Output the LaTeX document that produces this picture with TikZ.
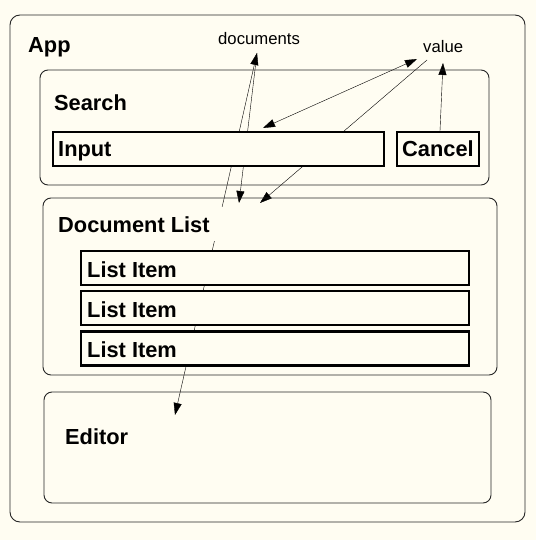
\documentclass[tikz,border=0pt]{standalone}
\usepackage{fontspec}
\setmainfont{Liberation Sans}
\usetikzlibrary{arrows.meta,backgrounds}
\definecolor{paper}{RGB}{255,253,242}

\begin{document}
\begin{tikzpicture}[x=1pt,y=-1pt,
    >={Triangle[length=12pt,width=8pt]},
    panel/.style={draw=black!85,line width=0.9pt,rounded corners=10pt,inner sep=0pt},
    widget/.style={draw=black,line width=2.2pt,fill=paper,inner sep=0pt},
    title/.style={font=\fontsize{21.8}{24}\selectfont\bfseries,anchor=base west,inner sep=0pt,fill=paper},
    prop/.style={font=\fontsize{16.7}{19}\selectfont,anchor=base west,inner sep=0pt},
    ]
  \useasboundingbox (0,0) rectangle (536,540);
  % containers
  \node[panel,minimum width=515pt,minimum height=507pt] (app) at (267.5,268.5) {};
  \node[panel,rounded corners=8pt,minimum width=449pt,minimum height=115pt] (search) at (264.5,127.5) {};
  \node[panel,rounded corners=8pt,minimum width=454pt,minimum height=177pt] (doclist) at (270,286.5) {};
  \node[panel,rounded corners=8pt,minimum width=447pt,minimum height=111pt] (editor) at (267.5,447.5) {};
  % widgets
  \node[widget,minimum width=331pt,minimum height=34pt] (input) at (218.5,149) {};
  \node[widget,minimum width=82pt,minimum height=34pt] (cancel) at (438,149) {};
  \foreach \y/\n in {268/item1,308/item2,348.5/item3}
    \node[widget,minimum width=388pt,minimum height=34pt] (\n) at (275,\y) {};
  % labels
  \node[title] (appLabel) at (28,53) {App};
  \node[title] (searchLabel) at (54,111) {Search};
  \node[title] (inputLabel) at (58,157) {Input};
  \node[title] (cancelLabel) at (402,157) {Cancel};
  \node[title,inner xsep=14pt,inner ysep=9pt] (doclistLabel) at (44,232) {Document List};
  \foreach \y/\n in {277/1,317/2,357/3}
    \node[title] (itemLabel\n) at (87,\y) {List Item};
  \node[title] (editorLabel) at (65,444) {Editor};
  \node[prop] (docs) at (218,45) {documents};
  \node[prop] (value) at (423,53) {value};
  % data flow
  \coordinate (docsTip) at (257,53);
  \coordinate (editorTip) at (175,415);
  \coordinate (listTip) at (239,203);
  \coordinate (inputTip) at (263,128);
  \coordinate (valueIn) at (417,59);
  \coordinate (valueOut) at (427,60);
  \coordinate (listTip2) at (260,203);
  \coordinate (valueTop) at (443,63);
  \begin{scope}[on background layer]
    \fill[paper] (0,0) rectangle (536,540);
    \draw[<->] (docsTip) -- (editorTip);
    \draw[->] (docsTip) -- (listTip);
    \draw[<->] (inputTip) -- (valueIn);
    \draw[->] (valueOut) -- (listTip2);
    \draw[->] ([xshift=2pt]cancel.north) -- (valueTop);
  \end{scope}
\end{tikzpicture}
\end{document}
